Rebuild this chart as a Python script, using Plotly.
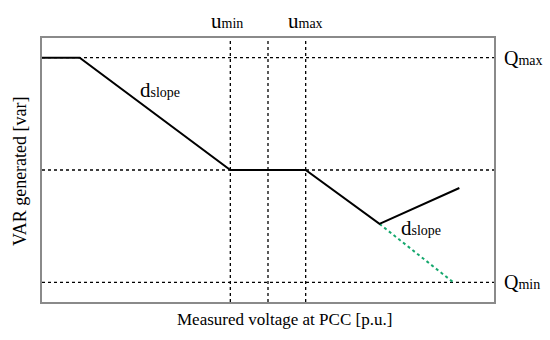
import plotly.graph_objects as go

# Data (arbitrary units)
curve_v = [0.85, 0.875, 0.975, 1.025, 1.074, 1.127]
curve_q = [1.0, 1.0, 0.0, 0.0, -0.48, -0.16]
green_v = [1.074, 1.123]
green_q = [-0.48, -1.0]
q_levels = [1.0, 0.0, -1.0]          # Qmax, 0, Qmin
v_levels = [0.975, 1.0, 1.025]       # umin, 1.0, umax
x_range = [0.85, 1.15]
y_range = [-1.175, 1.175]

FONT = "Liberation Serif"

fig = go.Figure()

# reference dotted lines
for q in q_levels:
    fig.add_trace(go.Scatter(x=x_range, y=[q, q], mode="lines",
                             line=dict(color="black", width=1.3, dash="dot"),
                             hoverinfo="skip", showlegend=False))
for v in v_levels:
    fig.add_trace(go.Scatter(x=[v, v], y=y_range, mode="lines",
                             line=dict(color="black", width=1.3, dash="dot"),
                             hoverinfo="skip", showlegend=False))

# green dotted extension
fig.add_trace(go.Scatter(x=green_v, y=green_q, mode="lines",
                         line=dict(color="#16a86e", width=2, dash="dot"),
                         showlegend=False))
# main curve
fig.add_trace(go.Scatter(x=curve_v, y=curve_q, mode="lines",
                         line=dict(color="black", width=2),
                         showlegend=False))

def big_small(big, small, bs, ss):
    return f"<span style='font-size:{bs}px'>{big}</span><span style='font-size:{ss}px'>{small}</span>"

annotations = [
    dict(x=v_levels[0] - 0.0025, y=1.064, xref="x", yref="paper", text=big_small("u", "min", 21, 14),
         showarrow=False, xanchor="center", yanchor="middle"),
    dict(x=v_levels[2], y=1.064, xref="x", yref="paper", text=big_small("u", "max", 21, 14),
         showarrow=False, xanchor="center", yanchor="middle"),
    dict(x=1.0177, y=q_levels[0], xref="paper", yref="y", text=big_small("Q", "max", 20, 14),
         showarrow=False, xanchor="left", yanchor="middle"),
    dict(x=1.0177, y=q_levels[2], xref="paper", yref="y", text=big_small("Q", "min", 20, 14),
         showarrow=False, xanchor="left", yanchor="middle"),
    dict(x=0.9137, y=0.711, xref="x", yref="y", text=big_small("d", "slope", 21, 14),
         showarrow=False, xanchor="left", yanchor="middle"),
    dict(x=1.087, y=-0.516, xref="x", yref="y", text=big_small("d", "slope", 21, 14),
         showarrow=False, xanchor="left", yanchor="middle"),
    dict(x=0.5376, y=-0.068, xref="paper", yref="paper", text="Measured voltage at PCC [p.u.]",
         showarrow=False, xanchor="center", yanchor="middle", font=dict(size=17)),
    dict(x=-0.0487, y=0.496, xref="paper", yref="paper", text="VAR generated [var]",
         showarrow=False, xanchor="center", yanchor="middle", textangle=-90, font=dict(size=18)),
]

fig.update_layout(
    width=550, height=340,
    margin=dict(l=42, r=56, t=38, b=38),
    paper_bgcolor="white", plot_bgcolor="white",
    font=dict(family=FONT, color="black", size=16),
    annotations=annotations,
    xaxis=dict(range=x_range, showgrid=False, zeroline=False, showticklabels=False, ticks="",
               showline=True, mirror=True, linecolor="#8a8a8a", linewidth=1.5),
    yaxis=dict(range=y_range, showgrid=False, zeroline=False, showticklabels=False, ticks="",
               showline=True, mirror=True, linecolor="#8a8a8a", linewidth=1.5),
)

fig.write_html("out.html", config={"displayModeBar": False},
               post_script="document.body.style.margin='0';document.body.style.overflow='hidden';")
